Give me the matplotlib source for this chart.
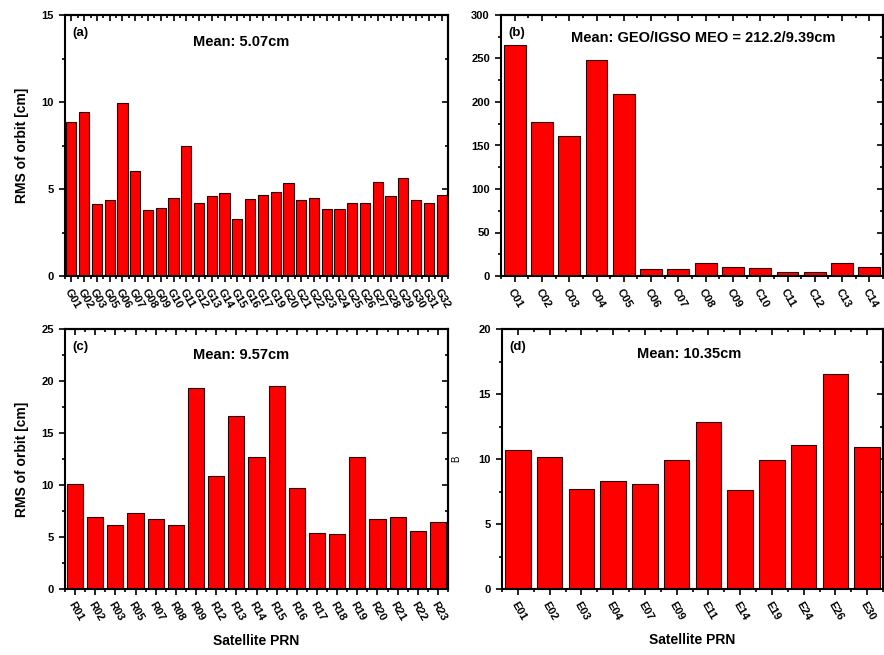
import matplotlib
matplotlib.use("Agg")
import matplotlib.pyplot as plt
import numpy as np

plt.rcParams['font.family'] = ['Liberation Sans', 'DejaVu Sans']
plt.rcParams['font.weight'] = 'bold'

# GPS
gps_prn = ['G01', 'G02', 'G03', 'G05', 'G06', 'G07', 'G08', 'G09', 'G10', 'G11',
           'G12', 'G13', 'G14', 'G15', 'G16', 'G17', 'G19', 'G20', 'G21', 'G22',
           'G23', 'G24', 'G25', 'G26', 'G27', 'G28', 'G29', 'G30', 'G31', 'G32']
gps_rms = [8.87, 9.44, 4.15, 4.36, 9.96, 6.01, 3.78, 3.88, 4.47, 7.50,
           4.22, 4.59, 4.76, 3.30, 4.43, 4.63, 4.82, 5.36, 4.38, 4.47,
           3.84, 3.84, 4.22, 4.18, 5.39, 4.61, 5.62, 4.36, 4.22, 4.64]

# BDS
bds_prn = ['C01', 'C02', 'C03', 'C04', 'C05', 'C06', 'C07', 'C08', 'C09', 'C10',
           'C11', 'C12', 'C13', 'C14']
bds_rms = [266.0, 176.7, 161.0, 247.8, 209.4, 8.5, 8.5, 14.6, 10.4, 9.6,
           4.2, 4.6, 15.0, 10.0]

# GLONASS
glo_prn = ['R01', 'R02', 'R03', 'R05', 'R07', 'R08', 'R09', 'R12', 'R13', 'R14',
           'R15', 'R16', 'R17', 'R18', 'R19', 'R20', 'R21', 'R22', 'R23']
glo_rms = [10.08, 6.91, 6.15, 7.30, 6.72, 6.15, 19.37, 10.85, 16.61, 12.74,
           19.53, 9.67, 5.38, 5.28, 12.71, 6.72, 6.91, 5.57, 6.43]

# Galileo
gal_prn = ['E01', 'E02', 'E03', 'E04', 'E07', 'E09', 'E11', 'E14', 'E19', 'E24',
           'E26', 'E30']
gal_rms = [10.70, 10.17, 7.71, 8.27, 8.07, 9.91, 12.88, 7.63, 9.94, 11.04,
           16.54, 10.93]

W, H = 884, 655
fig = plt.figure(figsize=(W / 100, H / 100), dpi=100)


def box(l, r, t, b):
    return [l / W, 1 - b / H, (r - l) / W, (b - t) / H]


def panel(rect, names, vals, ymax, ystep, tag, mean_txt, mean_x, mean_y,
          ylabel=None, xlabel=None, tick_fs=8):
    ax = fig.add_axes(rect)
    x = np.arange(len(names))
    ax.bar(x, vals, width=0.8, color='#ff0000', edgecolor='#2a0000', linewidth=0.8)
    ax.set_xlim(-0.5, len(names) - 0.5)
    ax.set_ylim(0, ymax)
    ax.set_yticks(np.arange(0, ymax + 0.1, ystep))
    ax.set_yticks(np.arange(0, ymax + 0.1, ystep / 2), minor=True)
    ax.set_xticks(x)
    ax.set_xticks(np.arange(-0.5, len(names)), minor=True)
    ax.set_xticklabels(names, rotation=-60, ha='left', va='top',
                       rotation_mode='anchor', fontsize=tick_fs, fontweight='bold')
    for lab in ax.get_yticklabels():
        lab.set_fontsize(8)
        lab.set_fontweight('bold')
    ax.tick_params(axis='both', which='both', direction='out', width=1.2,
                   top=False, right=False)
    ax.tick_params(which='major', length=4.5)
    ax.tick_params(which='minor', length=2.5)
    # mirrored ticks pointing inside
    sec = ax.secondary_xaxis('top')
    sec.set_xticks(x)
    sec.set_xticks(np.arange(-0.5, len(names)), minor=True)
    sec.tick_params(which='both', direction='in', width=1.2, labeltop=False)
    sec.tick_params(which='major', length=4)
    sec.tick_params(which='minor', length=2.5)
    sec.set_xticklabels([])
    secy = ax.secondary_yaxis('right')
    secy.set_yticks(np.arange(0, ymax + 0.1, ystep))
    secy.set_yticks(np.arange(0, ymax + 0.1, ystep / 2), minor=True)
    secy.tick_params(which='both', direction='in', width=1.2, labelright=False)
    secy.tick_params(which='major', length=4)
    secy.tick_params(which='minor', length=2.5)
    for s in ax.spines.values():
        s.set_linewidth(1.5)
    sec.spines['top'].set_linewidth(1.5)
    secy.spines['right'].set_linewidth(1.5)
    ax.text(0.02, 0.955, tag, transform=ax.transAxes, fontsize=9.5,
            fontweight='bold', va='top', ha='left')
    ax.text(mean_x, mean_y, mean_txt, transform=ax.transAxes, fontsize=10.5,
            fontweight='bold', va='center', ha='center')
    if ylabel:
        ax.set_ylabel(ylabel, fontsize=10, fontweight='bold', labelpad=9)
    if xlabel:
        ax.set_xlabel(xlabel, fontsize=10, fontweight='bold', labelpad=8)
    return ax


panel(box(65, 448, 15, 276), gps_prn, gps_rms, 15, 5, '(a)', 'Mean: 5.07cm',
      0.46, 0.895, ylabel='RMS of orbit [cm]')
panel(box(501, 883, 15, 276), bds_prn, bds_rms, 300, 50, '(b)',
      'Mean: GEO/IGSO MEO = 212.2/9.39cm', 0.53, 0.91)
panel(box(65, 448, 329, 589), glo_prn, glo_rms, 25, 5, '(c)', 'Mean: 9.57cm',
      0.46, 0.90, ylabel='RMS of orbit [cm]', xlabel='Satellite PRN')
ax_d = panel(box(502, 883, 329, 589), gal_prn, gal_rms, 20, 5, '(d)',
             'Mean: 10.35cm', 0.49, 0.905, xlabel='Satellite PRN')
ax_d.set_ylabel('B', fontsize=7, fontweight='normal', labelpad=12)

fig.savefig('out.png', dpi=100)
